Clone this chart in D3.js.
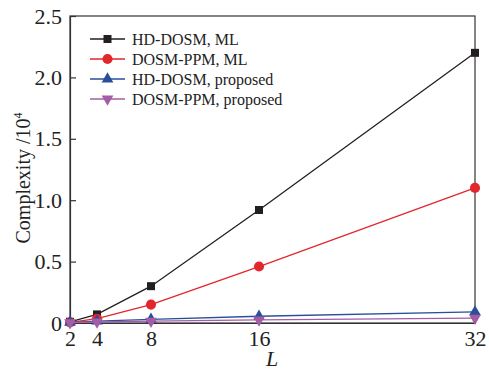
<!DOCTYPE html>
<html><head><meta charset="utf-8">
<script src="https://cdn.jsdelivr.net/npm/d3@7"></script>
<style>
svg text { font-family: "Liberation Serif", serif !important; fill: #222; }
</style>
</head><body style="margin:0">
<svg id="c" width="489" height="370"></svg>
<script>
const L = [2, 4, 8, 16, 32];
const hdML = [0.01, 0.07, 0.30, 0.92, 2.20];
const ppmML = [0.005, 0.035, 0.15, 0.46, 1.10];
const hdProp = [0.005, 0.015, 0.03, 0.055, 0.09];
const ppmProp = [0.003, 0.008, 0.015, 0.025, 0.04];
const seriesNames = ["HD-DOSM, ML", "DOSM-PPM, ML", "HD-DOSM, proposed", "DOSM-PPM, proposed"];
const yTicks = [0, 0.5, 1.0, 1.5, 2.0, 2.5];
const yTickLabels = ["0", "0.5", "1.0", "1.5", "2.0", "2.5"];
const xTicks = [2, 4, 8, 16, 32];

const svg = d3.select("#c");
const m = {l: 70, r: 475, t: 16, b: 323};
const x = d3.scaleLinear().domain([2, 32]).range([m.l, m.r]);
const y = d3.scaleLinear().domain([0, 2.5]).range([m.b, m.t]);
const fam = "Liberation Serif";

const series = [
  {name: seriesNames[0], vals: hdML, color: "#231f20", sym: d3.symbolSquare, size: 64},
  {name: seriesNames[1], vals: ppmML, color: "#e3262c", sym: d3.symbolCircle, size: 80},
  {name: seriesNames[2], vals: hdProp, color: "#2b4e9b", sym: d3.symbolTriangle, size: 60},
  {name: seriesNames[3], vals: ppmProp, color: "#a35ca6", sym: d3.symbolTriangle, size: 60, rot: 180}
];

svg.append("rect").attr("x", m.l).attr("y", m.t).attr("width", m.r - m.l).attr("height", m.b - m.t)
  .attr("fill", "none").attr("stroke", "#333").attr("stroke-width", 1.2);

const yAxis = d3.axisLeft(y).tickValues(yTicks).tickFormat((d, i) => yTickLabels[i]).tickSizeInner(-6).tickSizeOuter(0).tickPadding(8);
const gy = svg.append("g").attr("transform", `translate(${m.l},0)`).call(yAxis);
const xAxis = d3.axisBottom(x).tickValues(xTicks).tickFormat(d3.format("d")).tickSizeInner(-6).tickSizeOuter(0).tickPadding(7);
const gx = svg.append("g").attr("transform", `translate(0,${m.b})`).call(xAxis);
[gx, gy].forEach(g => {
  g.attr("font-family", fam).attr("font-size", 22);
  g.select(".domain").attr("stroke", "#333").attr("stroke-width", 1.2);
  g.selectAll(".tick line").attr("stroke", "#333").attr("stroke-width", 1.2);
  g.selectAll("text").attr("font-family", fam).attr("font-size", 22);
});

series.forEach(s => {
  const line = d3.line().x((d, i) => x(L[i])).y(d => y(d));
  svg.append("path").datum(s.vals).attr("d", line).attr("fill", "none").attr("stroke", s.color).attr("stroke-width", 1.3);
  svg.selectAll(null).data(s.vals).enter().append("path")
    .attr("d", d3.symbol().type(s.sym).size(s.size))
    .attr("transform", (d, i) => `translate(${x(L[i])},${y(d)}) rotate(${s.rot || 0})`)
    .attr("fill", s.color);
});

const lg = svg.append("g");
series.forEach((s, i) => {
  const yy = 39 + i * 20;
  lg.append("line").attr("x1", 90).attr("x2", 125).attr("y1", yy).attr("y2", yy).attr("stroke", s.color).attr("stroke-width", 1.3);
  lg.append("path").attr("d", d3.symbol().type(s.sym).size(s.size))
    .attr("transform", `translate(107.5,${yy}) rotate(${s.rot || 0})`).attr("fill", s.color);
  lg.append("text").attr("x", 132).attr("y", yy + 5.5).text(s.name)
    .attr("font-family", fam).attr("font-size", 16);
});

svg.append("text").attr("transform", "translate(30,178) rotate(-90)").attr("text-anchor", "middle")
  .attr("font-family", fam).attr("font-size", 20)
  .html("Complexity /10<tspan dy='-8' font-size='12'>4</tspan>");
svg.append("text").attr("x", 272).attr("y", 366).attr("text-anchor", "middle")
  .attr("font-family", fam).attr("font-size", 22).attr("font-style", "italic").text("L");
</script>
</body></html>
